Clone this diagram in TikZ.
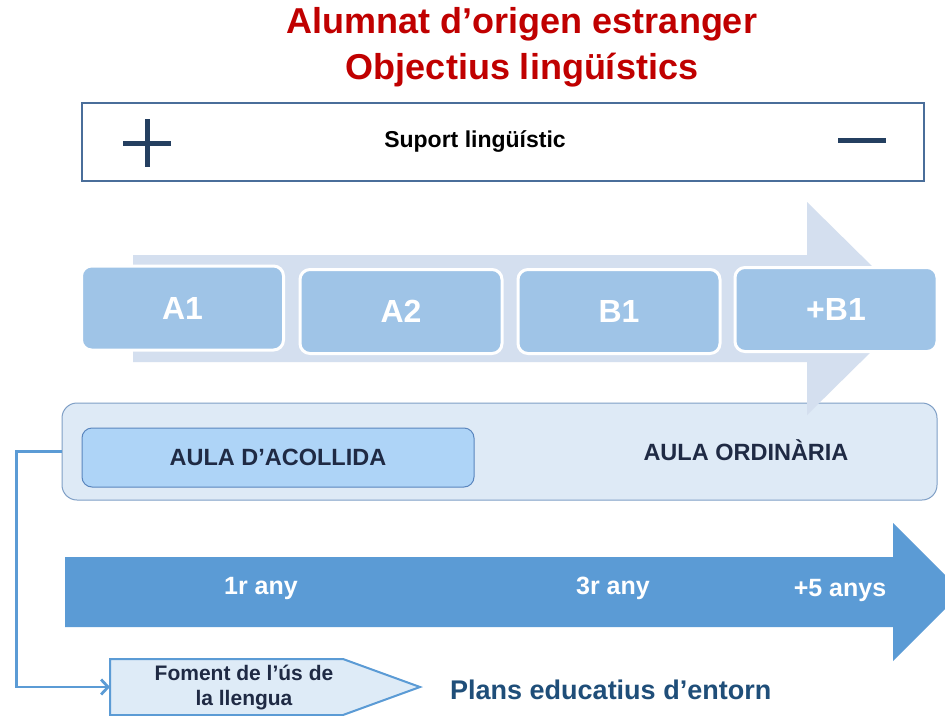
\documentclass[tikz,border=0pt]{standalone}
\usepackage{fontspec}
\setmainfont{Liberation Sans}
\usetikzlibrary{arrows.meta}
\definecolor{titlered}{HTML}{C00000}
\definecolor{frameblue}{HTML}{4A6E9A}
\definecolor{navy}{HTML}{243F60}
\definecolor{lightarrow}{HTML}{D4DFEF}
\definecolor{levelfill}{HTML}{9FC4E7}
\definecolor{contfill}{HTML}{DEEAF6}
\definecolor{contline}{HTML}{7F9FC6}
\definecolor{acfill}{HTML}{AED4F7}
\definecolor{acline}{HTML}{5A86BE}
\definecolor{bigblue}{HTML}{5B9BD5}
\definecolor{darktext}{HTML}{1F2A44}
\definecolor{planstext}{HTML}{1F4E79}
\definecolor{fomfill}{HTML}{DEEBF7}
\tikzset{
  levelbox/.style={draw=white, line width=3pt, fill=levelfill, rounded corners=10pt,
    minimum width=202pt, minimum height=84pt, inner sep=0pt, text=white,
    font=\fontsize{32}{35}\selectfont\bfseries},
  yeartext/.style={text=white, font=\fontsize{25}{29}\selectfont\bfseries, inner sep=0pt},
  aulatext/.style={text=darktext, font=\fontsize{23.5}{27}\selectfont\bfseries, inner sep=0pt},
  titletext/.style={text=titlered, font=\fontsize{36}{41}\selectfont\bfseries, inner sep=0pt},
}
\begin{document}
\begin{tikzpicture}[x=1pt,y=-1pt]
\clip (0,0) rectangle (945,715);
\fill[white] (0,0) rectangle (945,715);
% title
\node[titletext] (t1) at (522,24) {Alumnat d’origen estranger};
\node[titletext] (t2) at (522,70) {Objectius lingüístics};
% support box
\node[draw=frameblue, line width=2.5pt, minimum width=842pt, minimum height=78pt, inner sep=0pt] (suport) at (503,142) {};
\node[font=\fontsize{23}{27}\selectfont\bfseries, text=black, inner sep=0pt] (suportlbl) at (475,142) {Suport lingüístic};
\draw[navy, line width=5pt] (123,143) -- (171,143) (147,119) -- (147,167);
\draw[navy, line width=5pt] (838,140) -- (886,140);
% container
\node[draw=contline, line width=1pt, fill=contfill, rounded corners=15pt, minimum width=875pt, minimum height=97pt, inner sep=0pt] (cont) at (499.5,451.5) {};
% light arrow
\fill[lightarrow] (133,255) -- (807,255) -- (807,202) -- (915,308.5) -- (807,415) -- (807,362) -- (133,362) -- cycle;
% level boxes
\node[levelbox] (a1) at (182.5,308) {A1};
\node[levelbox] (a2) at (401,311.5) {A2};
\node[levelbox] (b1) at (619,311.5) {B1};
\node[levelbox] (pb1) at (836,309.5) {+B1};
% acollida
\node[draw=acline, line width=1pt, fill=acfill, rounded corners=10pt, minimum width=392pt, minimum height=59pt, inner sep=0pt] (acoll) at (278,457.5) {};
\node[aulatext] (acolllbl) at (278,457) {AULA D’ACOLLIDA};
\node[aulatext] (ordlbl) at (746,450) {AULA ORDINÀRIA};
% big blue arrow
\fill[bigblue] (65,557) -- (893,557) -- (893,523) -- (962,592) -- (893,661) -- (893,627) -- (65,627) -- cycle;
\node[yeartext] (y1) at (261,588) {1r any};
\node[yeartext] (y3) at (613,588) {3r any};
\node[yeartext] (y5) at (840,590) {+5 anys};
% foment
\draw[bigblue, line width=2pt, fill=fomfill] (110,659) -- (343,659) -- (420,687) -- (343,715) -- (110,715) -- cycle;
\coordinate (fomin) at (110,687);
\node[align=center, text=darktext, font=\fontsize{21}{25}\selectfont\bfseries, inner sep=0pt] (foment) at (244,688) {Foment de l’ús de\\la llengua};
\node[anchor=west, text=planstext, font=\fontsize{27}{31}\selectfont\bfseries, inner sep=0pt] (plans) at (450,690) {Plans educatius d’entorn};
% connector
\draw[bigblue, line width=2.8pt, -{Straight Barb[length=7pt,width=15pt,line width=2.8pt]}] (cont.west) -- ++(-45,0) |- (fomin);
\end{tikzpicture}
\end{document}
